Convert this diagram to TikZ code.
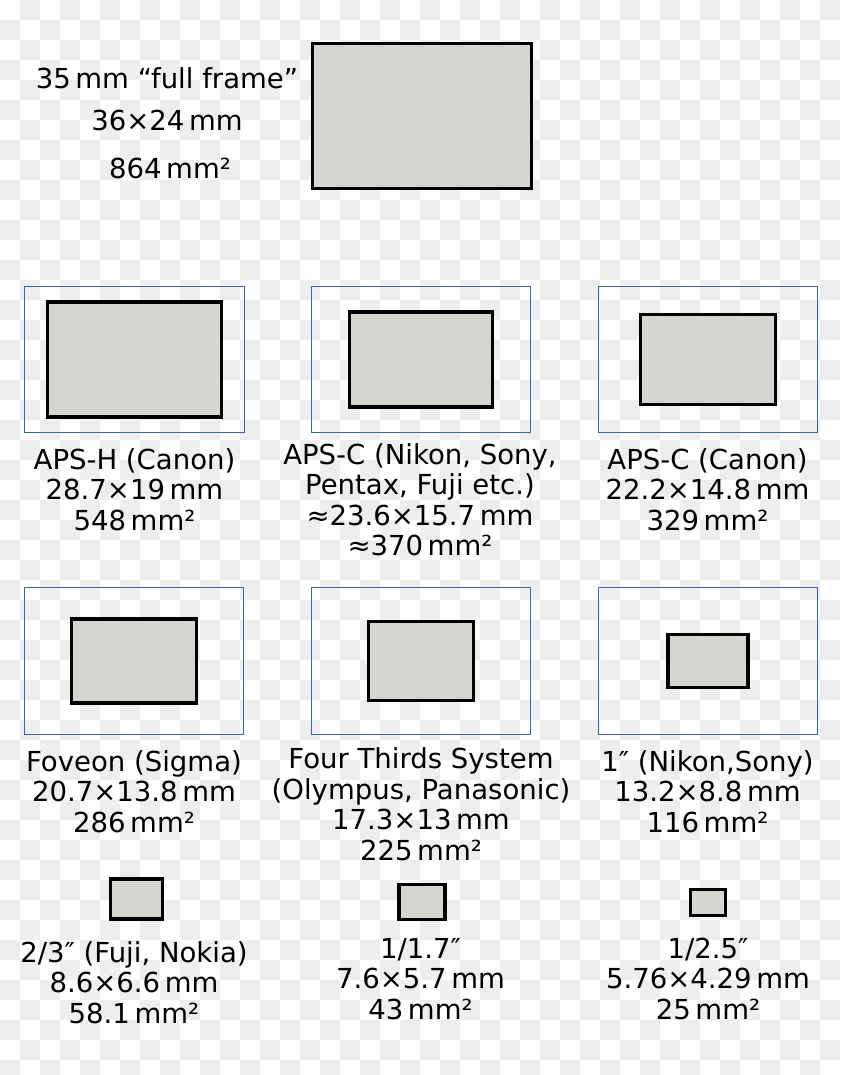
\documentclass[tikz,border=0pt]{standalone}
\usepackage{fontspec}
\setmainfont{DejaVu Sans}
\definecolor{sensorgray}{HTML}{D3D7CF}
\definecolor{checkgray}{HTML}{EEEEEE}
\definecolor{frameblue}{HTML}{3A63A0}

\begin{document}
\begin{tikzpicture}[x=0.3mm,y=-0.3mm,
sensor/.style 2 args={draw=black,fill=sensorgray,line width=1mm,inner sep=0pt,
minimum width=#1*1.82mm,minimum height=#2*1.82mm},
fullframe/.style={draw=frameblue,line width=0.4mm,inner sep=0pt,
minimum width=36*1.83mm,minimum height=24*1.83mm},
caption/.style={align=center,anchor=base,inner sep=0pt,
font=\fontsize{23.5}{26}\selectfont}]
\useasboundingbox (0,0) rectangle (840,1075);
% checkered background
\begin{scope}
\clip (0,0) rectangle (840,1075);
\fill[white] (0,0) rectangle (840,1075);
\foreach \j in {0,...,53} \foreach \i in {0,...,41} {
\ifodd\numexpr\i+\j\relax \fill[checkgray] (\i*20,\j*20) rectangle ++(20,20); \fi}
\end{scope}
% full frame
\node[sensor={36}{24}] (ff) at (422,116) {};
\node[caption] (ffa) at (167,88) {35\,mm “full frame”};
\node[caption] (ffb) at (167,130) {36×24\,mm};
\node[caption] (ffc) at (170,178) {864\,mm²};
% second row (captions sit on their last line)
\node[fullframe] (fra) at (134.5,359.5) {};
\node[fullframe] (frb) at (421,359.5) {};
\node[fullframe] (frc) at (708,359.5) {};
\node[sensor={28.7}{19}] (apsh) at (fra) {};
\node[sensor={23.6}{15.7}] (apsc) at (frb) {};
\node[sensor={22.2}{14.8}] (apscc) at (frc) {};
\node[caption] (lapsh) at (134.5,530) {APS-H (Canon)\\28.7×19\,mm\\548\,mm²};
\node[caption] (lapsc) at (420,555.5) {APS-C (Nikon, Sony,\\Pentax, Fuji etc.)\\≈23.6×15.7\,mm\\≈370\,mm²};
\node[caption] (lapscc) at (707.5,530) {APS-C (Canon)\\22.2×14.8\,mm\\329\,mm²};
% third row
\node[fullframe] (frd) at (134,661) {};
\node[fullframe] (fre) at (421,661) {};
\node[fullframe] (frf) at (708,661) {};
\node[sensor={20.7}{13.8}] (fov) at (frd) {};
\node[sensor={17.3}{13}] (ft) at (fre) {};
\node[sensor={13.2}{8.8}] (one) at (frf) {};
\node[caption] (lfov) at (134,832) {Foveon (Sigma)\\20.7×13.8\,mm\\286\,mm²};
\node[caption] (lft) at (421,860) {Four Thirds System\\(Olympus, Panasonic)\\17.3×13\,mm\\225\,mm²};
\node[caption] (lone) at (707.5,832) {1″ (Nikon,Sony)\\13.2×8.8\,mm\\116\,mm²};
% fourth row
\node[sensor={8.6}{6.6}] (twoth) at (136.5,899) {};
\node[sensor={7.6}{5.7}] (oneseven) at (422,902) {};
\node[sensor={5.76}{4.29}] (onetwofive) at (708,902.5) {};
\node[caption] (ltwoth) at (134,1023) {2/3″ (Fuji, Nokia)\\8.6×6.6\,mm\\58.1\,mm²};
\node[caption] (loneseven) at (420.5,1019) {1/1.7″\\7.6×5.7\,mm\\43\,mm²};
\node[caption] (lonetwofive) at (708,1019) {1/2.5″\\5.76×4.29\,mm\\25\,mm²};
\end{tikzpicture}
\end{document}
